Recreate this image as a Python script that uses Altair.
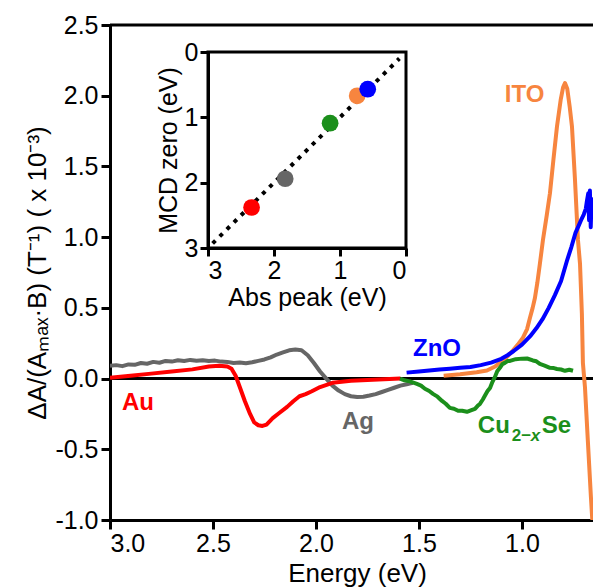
import altair as alt
import pandas as pd

FONT = "Liberation Sans"

# ---------------- main panel data (energy in eV, dA/(Amax*B) x 1e-3) ----------------
AU_E = [3.00, 2.90, 2.80, 2.70, 2.60, 2.52, 2.47, 2.43, 2.41, 2.39, 2.37, 2.345, 2.32, 2.30, 2.28,
        2.26, 2.24, 2.21, 2.18, 2.14, 2.11, 2.08, 2.05, 2.02, 1.98, 1.92, 1.83, 1.75, 1.67, 1.59]
AU_V = [0.005, 0.02, 0.035, 0.05, 0.065, 0.085, 0.09, 0.085, 0.07, 0.02, -0.06, -0.16, -0.25, -0.31, -0.33,
        -0.335, -0.325, -0.28, -0.245, -0.20, -0.16, -0.125, -0.11, -0.09, -0.06, -0.03, -0.015, -0.01, -0.005, 0.0]

AG_E = [3.00, 2.97, 2.94, 2.91, 2.88, 2.85, 2.82, 2.79, 2.76, 2.73, 2.70, 2.67, 2.64, 2.61, 2.58, 2.55,
        2.52, 2.49, 2.46, 2.43, 2.40, 2.37, 2.34, 2.31, 2.28, 2.25, 2.22, 2.19, 2.16, 2.13, 2.10, 2.07,
        2.04, 2.01, 1.98, 1.95, 1.92, 1.89, 1.86, 1.83, 1.80, 1.77, 1.74, 1.71, 1.68, 1.65, 1.62, 1.59,
        1.56, 1.53]
AG_V = [0.09, 0.095, 0.088, 0.10, 0.097, 0.11, 0.105, 0.118, 0.112, 0.125, 0.12, 0.13, 0.124, 0.132, 0.126, 0.13,
        0.124, 0.127, 0.12, 0.118, 0.11, 0.113, 0.108, 0.115, 0.125, 0.135, 0.15, 0.17, 0.185, 0.20, 0.205, 0.20,
        0.165, 0.11, 0.05, 0.0, -0.05, -0.085, -0.11, -0.125, -0.13, -0.128, -0.12, -0.11, -0.095, -0.08, -0.065, -0.05,
        -0.04, -0.03]

ITO_E = [1.38, 1.30, 1.22, 1.17, 1.13, 1.107, 1.075, 1.044, 1.02, 0.995, 0.975, 0.961, 0.948, 0.937, 0.925,
         0.913, 0.898, 0.88, 0.864, 0.847, 0.83, 0.812, 0.80, 0.791, 0.78, 0.768, 0.757, 0.743, 0.728, 0.718,
         0.709, 0.704, 0.694, 0.68, 0.665, 0.65]
ITO_V = [0.02, 0.03, 0.045, 0.057, 0.085, 0.113, 0.15, 0.198, 0.24, 0.29, 0.35, 0.43, 0.50, 0.57, 0.68,
         0.81, 0.98, 1.15, 1.31, 1.55, 1.78, 1.97, 2.06, 2.09, 2.05, 1.92, 1.78, 1.42, 0.98, 0.81,
         0.46, 0.11, -0.06, -0.44, -0.84, -1.2]

ZNO_E = [1.56, 1.50, 1.45, 1.40, 1.35, 1.30, 1.25, 1.20, 1.15, 1.10, 1.07, 1.04, 1.00, 0.96, 0.93, 0.90,
         0.87, 0.84, 0.81, 0.78, 0.76, 0.74, 0.725, 0.71, 0.70, 0.69, 0.684, 0.678, 0.674, 0.67, 0.666,
         0.662, 0.658]
ZNO_V = [0.042, 0.05, 0.057, 0.064, 0.07, 0.076, 0.082, 0.095, 0.113, 0.14, 0.165, 0.195, 0.24, 0.30, 0.355, 0.42,
         0.50, 0.59, 0.69, 0.84, 0.93, 1.03, 1.08, 1.13, 1.16, 1.20, 1.26, 1.31, 1.12, 1.33, 1.07,
         1.27, 1.15]

CU_E = [1.592, 1.57, 1.544, 1.51, 1.49, 1.471, 1.45, 1.432, 1.41, 1.388, 1.37, 1.35, 1.33, 1.31, 1.29,
        1.267, 1.245, 1.228, 1.215, 1.204, 1.19, 1.18, 1.167, 1.155, 1.143, 1.131, 1.12, 1.107, 1.095,
        1.083, 1.07, 1.058, 1.03, 1.00, 0.975, 0.947, 0.93, 0.913, 0.89, 0.864, 0.845, 0.83, 0.81,
        0.791, 0.77, 0.752]
CU_V = [0.0, -0.012, -0.02, -0.038, -0.05, -0.072, -0.088, -0.108, -0.128, -0.158, -0.178, -0.207, -0.213, -0.228, -0.228,
        -0.235, -0.223, -0.214, -0.193, -0.179, -0.148, -0.122, -0.088, -0.066, -0.023, 0.012, 0.052, 0.076, 0.102,
        0.111, 0.124, 0.125, 0.137, 0.141, 0.142, 0.128, 0.122, 0.104, 0.092, 0.076, 0.074, 0.068, 0.064,
        0.055, 0.062, 0.055]

# series label text, anchor (energy, value), colour
LABELS = [
    ("Au", 2.942, -0.219, "#ff0000"),
    ("Ag", 1.874, -0.354, "#666666"),
    ("ZnO", 1.529, 0.163, "#0000ff"),
    ("ITO", 1.083, 1.959, "#f7853f"),
]
CU_LABEL = (1.214, -0.382, "#1b8f1b")

X_TICKS = [3.0, 2.5, 2.0, 1.5, 1.0]
Y_TICKS = [-1.0, -0.5, 0.0, 0.5, 1.0, 1.5, 2.0, 2.5]
X_DOMAIN = [3.0, 0.655]
Y_DOMAIN = [-1.0, 2.5]

# ---------------- inset data ----------------
INSET_ABS = [2.34, 1.83, 1.15, 0.74, 0.58]
INSET_MCD = [2.38, 1.94, 1.09, 0.67, 0.57]
INSET_COLORS = ["#ff0000", "#666666", "#1b8f1b", "#f7853f", "#0000ff"]
FIT_X = [2.93, 0.10]
FIT_Y = [2.93, 0.10]
INSET_TICKS = [3, 2, 1, 0]
INSET_DOMAIN = [3, 0]

W, H = 483, 495

main_x = alt.Scale(domain=X_DOMAIN, nice=False, zero=False)
main_y = alt.Scale(domain=Y_DOMAIN, nice=False, zero=False)

common_axis = dict(grid=False, tickSize=9, tickWidth=3, domainWidth=3, domainColor="black",
                   tickColor="black", labelColor="black", titleColor="black",
                   labelFontSize=25, titleFontSize=26, titleFontWeight="normal",
                   labelFont=FONT, titleFont=FONT)

x_axis = alt.Axis(values=X_TICKS, format=".1f", title="Energy (eV)", labelPadding=2,
                  titlePadding=4, titleX=247, **common_axis)
y_axis = alt.Axis(values=Y_TICKS, title="ΔA/(Aₘₐₓ·B) (T⁻¹) ( x 10⁻³)", labelPadding=3,
                  labelExpr="replace(format(datum.value, '.1f'), '−', '-')",
                  titlePadding=4, **common_axis)

X = lambda: alt.X("energy:Q", scale=main_x, axis=x_axis)
Y = lambda: alt.Y("value:Q", scale=main_y, axis=y_axis)


def series(E, V, color):
    df = pd.DataFrame({"energy": E, "value": V, "idx": list(range(len(E)))})
    return alt.Chart(df).mark_line(color=color, strokeWidth=4, clip=True, strokeJoin="round").encode(
        x=X(), y=Y(), order="idx:Q")


frame_top = alt.Chart(pd.DataFrame({"value": [Y_DOMAIN[1]]})).mark_rule(
    color="black", strokeWidth=3).encode(y=Y())
zero_line = alt.Chart(pd.DataFrame({"value": [0.0]})).mark_rule(
    color="black", strokeWidth=3).encode(y=Y())

label_layers = []
for txt, e, v, c in LABELS:
    label_layers.append(
        alt.Chart(pd.DataFrame({"energy": [e], "value": [v], "t": [txt]})).mark_text(
            align="left", baseline="alphabetic", fontSize=24, fontWeight="bold", color=c, font=FONT
        ).encode(x=X(), y=Y(), text="t:N"))

ce, cv, cc = CU_LABEL
cu_parts = [("Cu", 0, 0, 24, "normal"), ("2−", 34, 8, 17, "normal"),
            ("x", 53, 8, 17, "italic"), ("Se", 64, 0, 24, "normal")]
for txt, dx, dy, fs, style in cu_parts:
    label_layers.append(
        alt.Chart(pd.DataFrame({"energy": [ce], "value": [cv], "t": [txt]})).mark_text(
            align="left", baseline="alphabetic", fontSize=fs, fontWeight="bold", fontStyle=style,
            color=cc, font=FONT, dx=dx, dy=dy
        ).encode(x=X(), y=Y(), text="t:N"))

main = alt.layer(
    frame_top, zero_line,
    series(AG_E, AG_V, "#666666"),
    series(AU_E, AU_V, "#ff0000"),
    series(ITO_E, ITO_V, "#f7853f"),
    series(ZNO_E, ZNO_V, "#0000ff"),
    series(CU_E, CU_V, "#1b8f1b"),
    *label_layers,
)

# ---------------- inset ----------------
inset_x = alt.Scale(domain=INSET_DOMAIN, range=[98, 296], nice=False, zero=False)
inset_y = alt.Scale(domain=[0, 3], range=[27, 223], nice=False, zero=False)

inset_common = dict(grid=False, tickSize=8, tickWidth=3, domainWidth=3, domainColor="black",
                    tickColor="black", labelColor="black", titleColor="black",
                    labelFontSize=25, titleFontSize=25, titleFontWeight="normal",
                    labelFont=FONT, titleFont=FONT, labelPadding=2)
ix_axis = alt.Axis(orient="bottom", offset=-272, values=INSET_TICKS, format="d",
                   title="Abs peak (eV)", titlePadding=2, **inset_common)
iy_axis = alt.Axis(orient="left", offset=-98, values=INSET_TICKS, format="d",
                   title="MCD zero (eV)", titlePadding=3, **inset_common)

IX = lambda f="a": alt.X(f"{f}:Q", scale=inset_x, axis=ix_axis)
IY = lambda f="m": alt.Y(f"{f}:Q", scale=inset_y, axis=iy_axis)

inset_box = alt.Chart(pd.DataFrame({"a": [INSET_DOMAIN[0]], "a2": [INSET_DOMAIN[1]],
                                    "m": [0], "m2": [3]})).mark_rect(
    filled=False, stroke="black", strokeWidth=3).encode(
    x=IX(), x2="a2:Q", y=IY(), y2="m2:Q")

fit = alt.Chart(pd.DataFrame({"a": FIT_X, "m": FIT_Y})).mark_line(
    color="black", strokeWidth=4, strokeDash=[4, 6]).encode(x=IX(), y=IY())

pts = alt.Chart(pd.DataFrame({"a": INSET_ABS, "m": INSET_MCD, "c": INSET_COLORS,
                              "k": list(range(len(INSET_ABS)))})).mark_circle(
    size=280, opacity=1).encode(x=IX(), y=IY(), color=alt.Color("c:N", scale=None), order="k:Q")

inset = alt.layer(inset_box, fit, pts)

chart = alt.layer(main, inset).resolve_scale(x="independent", y="independent").properties(
    width=W, height=H,
    padding={"left": 110, "top": 25, "right": 0, "bottom": 67},
    autosize=alt.AutoSizeParams(type="none"),
    background="white",
).configure_view(stroke=None)

chart.save("out.html", embed_options={"renderer": "svg", "actions": False})
